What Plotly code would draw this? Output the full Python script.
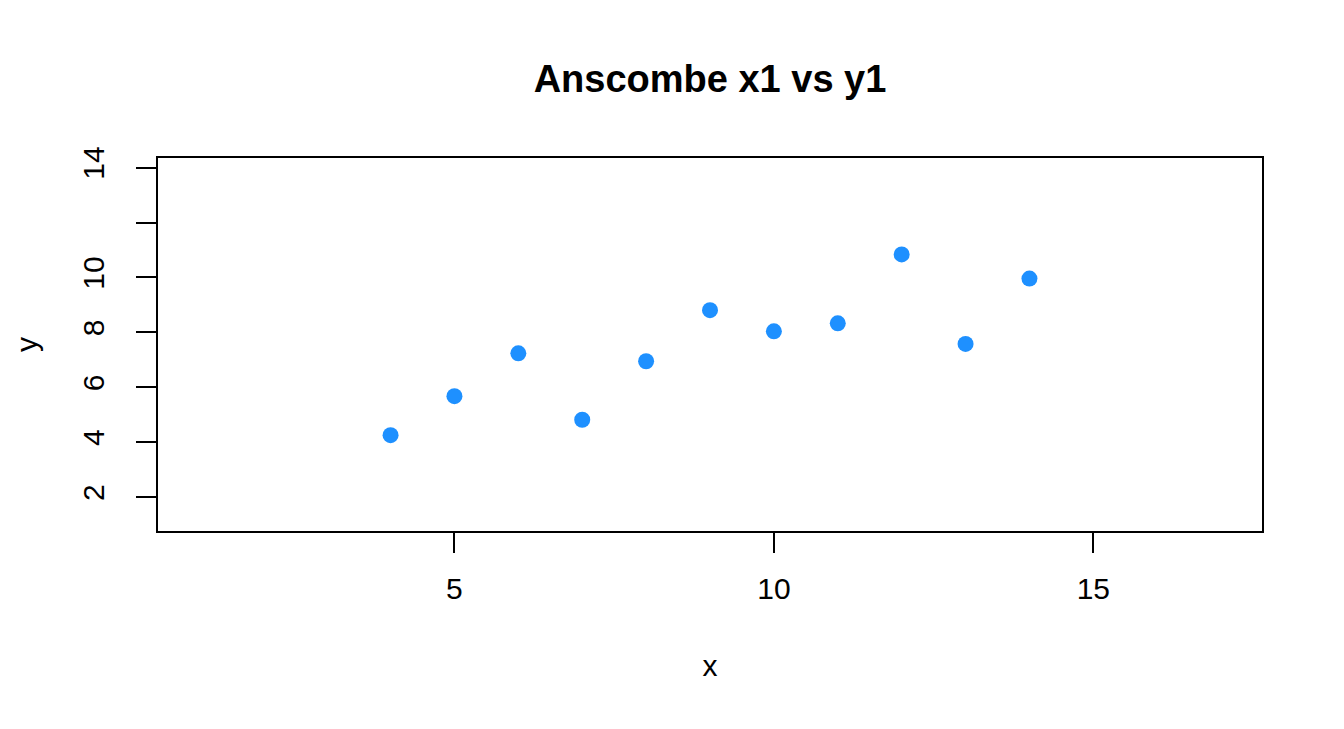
import plotly.graph_objects as go

# Anscombe quartet, set 1
x1 = [10, 8, 13, 9, 11, 14, 6, 4, 12, 7, 5]
y1 = [8.04, 6.95, 7.58, 8.81, 8.33, 9.96, 7.24, 4.26, 10.84, 4.82, 5.68]

x_ticks = [5, 10, 15]
x_tick_labels = ["5", "10", "15"]
y_ticks = [2, 4, 6, 8, 10, 12, 14]
y_tick_labels = ["2", "4", "6", "8", "10", "", "14"]

FONT = "Liberation Sans, Arial, Helvetica, sans-serif"

fig = go.Figure()
fig.add_trace(go.Scatter(
    x=x1, y=y1, mode="markers",
    marker=dict(color="#1E90FF", size=16, line=dict(width=0)),
    showlegend=False,
))

fig.update_layout(
    width=1344, height=729, autosize=False,
    paper_bgcolor="white", plot_bgcolor="white",
    margin=dict(l=150, r=90, t=150, b=206),
    font=dict(family=FONT, size=30, color="black"),
    title=dict(text="<b>Anscombe x1 vs y1</b>", x=0.5, xref="paper",
               y=1 - 71 / 729, yref="container", yanchor="middle",
               font=dict(size=38, family=FONT, color="black")),
)

fig.update_xaxes(
    range=[0.36, 17.64], tickvals=x_ticks, ticktext=x_tick_labels,
    showgrid=False, zeroline=False,
    showline=True, linecolor="black", linewidth=2, mirror=True,
    ticks="outside", ticklen=20, tickwidth=2, tickcolor="black",
    ticklabelstandoff=10,
    title=dict(text="x", standoff=51, font=dict(size=30)),
)
fig.update_yaxes(
    range=[0.77, 14.35], tickvals=y_ticks, ticktext=y_tick_labels,
    tickangle=-90,
    showgrid=False, zeroline=False,
    showline=True, linecolor="black", linewidth=2, mirror=True,
    ticks="outside", ticklen=20, tickwidth=2, tickcolor="black",
    ticklabelstandoff=20,
    title=dict(text="y", standoff=31, font=dict(size=30)),
)

fig.write_html("out.html")
